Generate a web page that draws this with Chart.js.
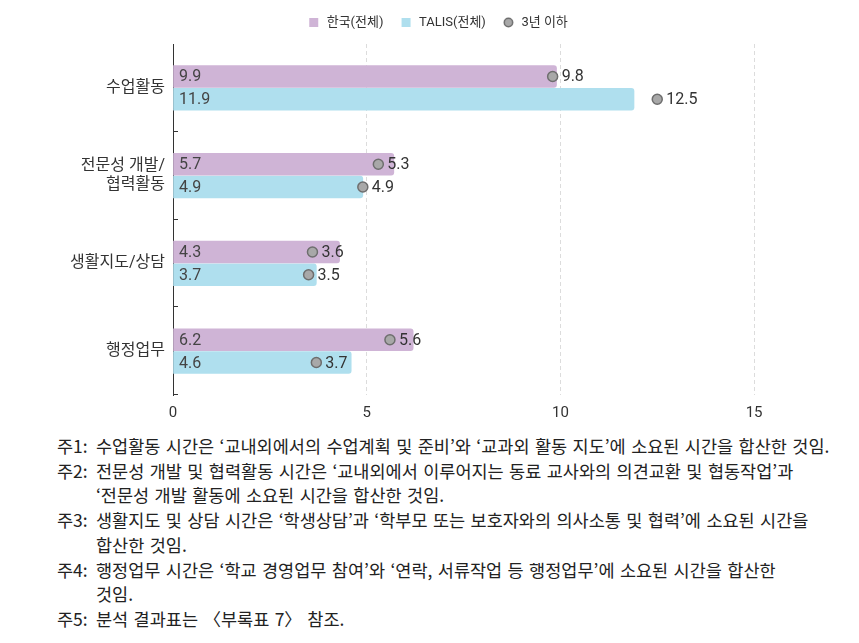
<!DOCTYPE html>
<html>
<head>
<meta charset="utf-8">
<script src="https://cdn.jsdelivr.net/npm/chart.js@4.4.1/dist/chart.umd.min.js"></script>
<style>
  body { margin: 0; background: #fff; font-family: Roboto, "Noto Sans CJK KR", sans-serif; }
  #wrap { position: relative; width: 859px; height: 431px; }
  #notes { margin: 3px 0 0 57px; font-family: "Noto Sans CJK KR", sans-serif; font-size: 17.5px; color: #222; word-spacing: 1.5px; }
  .note { display: flex; line-height: 24.7px; }
  .note .k { width: 39px; flex: none; }
</style>
</head>
<body>
<div id="wrap"><canvas id="chart"></canvas></div>
<div id="notes">
  <div class="note"><span class="k">주1:</span><span>수업활동 시간은 ‘교내외에서의 수업계획 및 준비’와 ‘교과외 활동 지도’에 소요된 시간을 합산한 것임.</span></div>
  <div class="note"><span class="k">주2:</span><span>전문성 개발 및 협력활동 시간은 ‘교내외에서 이루어지는 동료 교사와의 의견교환 및 협동작업’과<br>‘전문성 개발 활동에 소요된 시간을 합산한 것임.</span></div>
  <div class="note"><span class="k">주3:</span><span>생활지도 및 상담 시간은 ‘학생상담’과 ‘학부모 또는 보호자와의 의사소통 및 협력’에 소요된 시간을<br>합산한 것임.</span></div>
  <div class="note"><span class="k">주4:</span><span>행정업무 시간은 ‘학교 경영업무 참여’와 ‘연락, 서류작업 등 행정업무’에 소요된 시간을 합산한<br>것임.</span></div>
  <div class="note"><span class="k">주5:</span><span>분석 결과표는 〈부록표 7〉 참조.</span></div>
</div>
<script>
// 교사 업무 시간 (주당 시간)
var categories = ['수업활동', ['전문성 개발/', '협력활동'], '생활지도/상담', '행정업무'];
var koreaAll = [9.9, 5.7, 4.3, 6.2];
var talisAll = [11.9, 4.9, 3.7, 4.6];
var koreaUnder3 = [9.8, 5.3, 3.6, 5.6];
var talisUnder3 = [12.5, 4.9, 3.5, 3.7];
var xTicks = [0, 5, 10, 15];

var barShift = 0.13; // bar centre offset from category centre, in category units

function rows(values, shift) {
  return values.map(function (v, i) { return { x: v, y: i + shift }; });
}

// small legend markers
function swatch(fill, stroke, round) {
  var c = document.createElement('canvas');
  c.width = 11; c.height = 11;
  var g = c.getContext('2d');
  g.fillStyle = fill;
  if (round) {
    g.beginPath();
    g.arc(5.5, 5.5, 4.2, 0, Math.PI * 2);
    g.fill();
    g.lineWidth = 1.5;
    g.strokeStyle = stroke;
    g.stroke();
  } else {
    g.fillRect(1, 1, 9, 9);
  }
  return c;
}

var legendGap = {
  id: 'legendGap',
  beforeInit: function (chart) {
    var fit = chart.legend.fit;
    chart.legend.fit = function () {
      fit.call(this);
      this.height += 5;
    };
  }
};

var labelPlugin = {
  id: 'valueLabels',
  afterDatasetsDraw: function (chart) {
    var ctx = chart.ctx;
    var area = chart.chartArea;
    ctx.save();
    ctx.font = '16px Roboto, "Noto Sans CJK KR"';
    ctx.textBaseline = 'middle';
    chart.data.datasets.forEach(function (ds, di) {
      var meta = chart.getDatasetMeta(di);
      meta.data.forEach(function (el, i) {
        var v = ds.data[i].x;
        ctx.fillStyle = ds.type === 'bar' ? '#444' : '#333';
        var x = ds.type === 'bar' ? area.left + 6 : el.x + 9;
        ctx.fillText(v.toFixed(1), x, el.y + 1);
      });
    });
    // short inward ticks on the y axis at category edges
    var ys = chart.scales.y;
    ctx.strokeStyle = '#333';
    ctx.lineWidth = 1;
    for (var i = 1; i <= categories.length; i++) {
      var yy = Math.round(ys.getPixelForValue(i - 0.5)) - 0.5;
      ctx.beginPath();
      ctx.moveTo(area.left, yy);
      ctx.lineTo(area.left + 5, yy);
      ctx.stroke();
    }
    ctx.restore();
  }
};

var barBase = {
  type: 'bar',
  indexAxis: 'y',
  grouped: false,
  barThickness: 22,
  borderRadius: 3,
  order: 2
};
var dotBase = {
  type: 'scatter',
  backgroundColor: '#a8a8a8',
  borderColor: '#6e6e6e',
  borderWidth: 1.5,
  pointRadius: 5,
  order: 1
};

var ctx = document.getElementById('chart').getContext('2d');
var chart = new Chart(ctx, {
  data: {
    datasets: [
      Object.assign({}, barBase, { label: '한국(전체)', data: rows(koreaAll, -barShift), backgroundColor: '#cfb4d6' }),
      Object.assign({}, barBase, { label: 'TALIS(전체)', data: rows(talisAll, barShift), backgroundColor: '#afdfee' }),
      Object.assign({}, dotBase, { label: '3년 이하', data: rows(koreaUnder3, -barShift) }),
      Object.assign({}, dotBase, { label: '3년 이하 TALIS', data: rows(talisUnder3, barShift) })
    ]
  },
  options: {
    responsive: true,
    maintainAspectRatio: false,
    animation: false,
    layout: { padding: { top: 0, right: 0, left: 16, bottom: 0 } },
    plugins: {
      legend: {
        display: true,
        position: 'top',
        labels: {
          usePointStyle: true,
          padding: 16,
          color: '#333',
          font: { size: 13, family: 'Roboto, "Noto Sans CJK KR"' },
          generateLabels: function (chart) {
            var ds = chart.data.datasets;
            return [0, 1, 2].map(function (i) {
              return {
                text: ds[i].label,
                datasetIndex: i,
                fontColor: '#333',
                pointStyle: swatch(ds[i].backgroundColor, ds[i].borderColor, i === 2),
                hidden: false
              };
            });
          }
        }
      },
      tooltip: { enabled: false }
    },
    scales: {
      x: {
        type: 'linear',
        min: 0,
        max: 17.54,
        afterBuildTicks: function (scale) {
          scale.ticks = xTicks.map(function (v) { return { value: v }; });
        },
        border: { display: false, dash: [4, 3] },
        grid: {
          color: function (c) { return c.tick && c.tick.value === 0 ? 'rgba(0,0,0,0)' : '#dcdcdc'; },
          drawTicks: false
        },
        ticks: { color: '#333', padding: 9, font: { size: 15, family: 'Roboto' } }
      },
      y: {
        type: 'linear',
        offset: false,
        reverse: true,
        min: -0.5,
        max: categories.length - 0.5,
        afterBuildTicks: function (scale) {
          scale.ticks = categories.map(function (c, i) { return { value: i }; });
        },
        afterFit: function (scale) { scale.width = 157; },
        border: { display: true, color: '#333', width: 1 },
        grid: { display: false, drawTicks: false },
        ticks: {
          color: '#333',
          padding: 8,
          font: { size: 16, family: 'Roboto, "Noto Sans CJK KR"' },
          callback: function (v) { return categories[v]; }
        }
      }
    }
  },
  plugins: [legendGap, labelPlugin]
});
</script>
</body>
</html>
